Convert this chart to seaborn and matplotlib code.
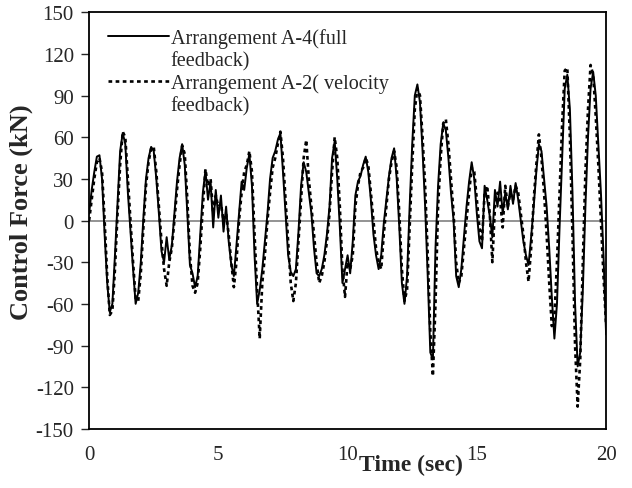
import numpy as np
import pandas as pd
import matplotlib
matplotlib.use("Agg")
import matplotlib.pyplot as plt
from matplotlib.lines import Line2D
import seaborn as sns

# time grid (sec), 0.1 s step
time_sec = np.round(np.arange(0, 20.01, 0.1), 1)

# Arrangement A-4 (full feedback)
force_a4 = [
    5, 22, 35, 46, 47, 30, -10, -45, -66, -60,
    -25, 12, 50, 63, 55, 20, -8, -35, -60, -52,
    -30, 2, 30, 45, 53, 50, 30, 5, -22, -30,
    -12, -28, -18, 5, 28, 45, 55, 40, 5, -32,
    -38, -48, -40, -10, 20, 36, 15, 28, -5, 22,
    2, 18, -8, 10, -15, -32, -40, -18, 5, 28,
    22, 38, 48, 25, -25, -60, -50, -35, -15, 5,
    30, 45, 50, 58, 63, 35, 5, -25, -37, -40,
    -35, -8, 25, 42, 35, 20, 5, -20, -38, -40,
    -35, -25, -10, 10, 45, 57, 30, -5, -45, -35,
    -25, -38, -15, 18, 28, 32, 40, 46, 35, 15,
    -10, -25, -35, -25, -2, 15, 32, 45, 52, 30,
    -5, -45, -60, -40, 10, 55, 90, 98, 85, 50,
    10, -40, -95, -100, -20, 25, 55, 70, 65, 45,
    20, 0, -40, -48, -35, -12, 10, 28, 42, 30,
    5, -15, -20, 25, 15, 3, -12, 22, 10, 28,
    5, 20, 8, 25, 12, 27, 15, 0, -15, -25,
    -32, -12, 10, 35, 55, 50, 30, 10, -20, -55,
    -85, -60, -5, 45, 95, 105, 80, 20, -60, -105,
    -95, -50, 10, 60, 95, 107, 90, 55, 20, -25,
    -82,
]

# Arrangement A-2 (velocity feedback)
force_a2 = [
    0, 15, 30, 42, 45, 35, 0, -40, -68, -65,
    -35, 5, 40, 64, 60, 30, 0, -30, -56, -58,
    -38, -5, 25, 42, 52, 53, 35, 10, -15, -35,
    -47, -30, -20, 0, 22, 40, 54, 48, 15, -25,
    -47, -52, -45, -20, 10, 37, 25, 30, 5, 18,
    10, 12, 0, 5, -10, -30, -48, -30, 0, 20,
    35, 40, 50, 35, -10, -50, -85, -45, -25, 0,
    20, 38, 45, 55, 64, 45, 15, -15, -45, -58,
    -45, -15, 15, 45, 58, 30, 10, -10, -30, -45,
    -40, -30, -15, 5, 35, 60, 45, 10, -35, -55,
    -30, -35, -25, 10, 25, 35, 38, 45, 40, 20,
    0, -20, -30, -35, -10, 10, 30, 42, 50, 38,
    5, -35, -58, -50, -5, 40, 80, 95, 90, 60,
    25, -25, -80, -112, -60, 10, 45, 70, 73, 55,
    30, 5, -30, -45, -40, -20, 0, 20, 38, 35,
    15, -5, -15, 20, 25, 5, -30, 10, 20, 15,
    -5, 25, 10, 20, 15, 25, 20, 5, -10, -30,
    -44, -20, 15, 40, 62, 45, 20, -10, -45, -76,
    -70, -30, 20, 70, 108, 110, 60, -10, -90, -134,
    -100, -30, 35, 80, 112, 105, 75, 40, 0, -40,
    -75,
]

x_ticks = [0, 5, 10, 15, 20]
y_ticks = list(range(-150, 151, 30))
label_a4 = "Arrangement A-4(full"
label_a2 = "Arrangement A-2( velocity"

df = pd.DataFrame({"t": time_sec, "a4": force_a4, "a2": force_a2})

sns.set_style("ticks")
plt.rcParams["font.family"] = ["Liberation Serif", "DejaVu Serif"]
plt.rcParams["axes.unicode_minus"] = False

dots = (0, (1.4, 1.3))

fig = plt.figure(figsize=(6.32, 4.89), dpi=100)
ax = fig.add_axes([0.141, 0.121, 0.818, 0.852])

ax.axhline(0, color="#808080", lw=1.2, zorder=1)
sns.lineplot(data=df, x="t", y="a2", ax=ax, color="black", lw=1.9,
             linestyle=dots, zorder=2)
sns.lineplot(data=df, x="t", y="a4", ax=ax, color="black", lw=1.4, zorder=3)

ax.set_xlim(0, 20)
ax.set_ylim(-150, 150)
ax.set_xticks(x_ticks)
ax.set_yticks(y_ticks)
ax.tick_params(axis="x", length=0, pad=12, labelsize=15)
ax.tick_params(axis="y", length=6, width=1, pad=5, labelsize=15, direction="out")
for s in ax.spines.values():
    s.set_visible(True)
    s.set_color("black")
    s.set_linewidth(1.3)

ax.set_xlabel("")
ax.set_ylabel("")
fig.text(21 / 632, 1 - 212 / 489, "Control Force (kN)", fontsize=19,
         fontweight="bold", rotation=90, ha="center", va="center")
fig.text(411 / 632, 1 - 465 / 489, "Time (sec)", fontsize=17, fontweight="bold",
         ha="center", va="center")

handles = [
    Line2D([], [], color="black", lw=1.4),
    Line2D([], [], color="none"),
    Line2D([], [], color="black", lw=1.9, linestyle=dots),
    Line2D([], [], color="none"),
]
labels = [label_a4, "feedback)", label_a2, "feedback)"]
ax.legend(handles, labels, loc="upper left", bbox_to_anchor=(0.037, 0.962),
          frameon=False, fontsize=14.5, handlelength=3.0, handletextpad=0.1,
          labelspacing=0.15, borderpad=0, borderaxespad=0)

fig.savefig("out.png", dpi=100)
